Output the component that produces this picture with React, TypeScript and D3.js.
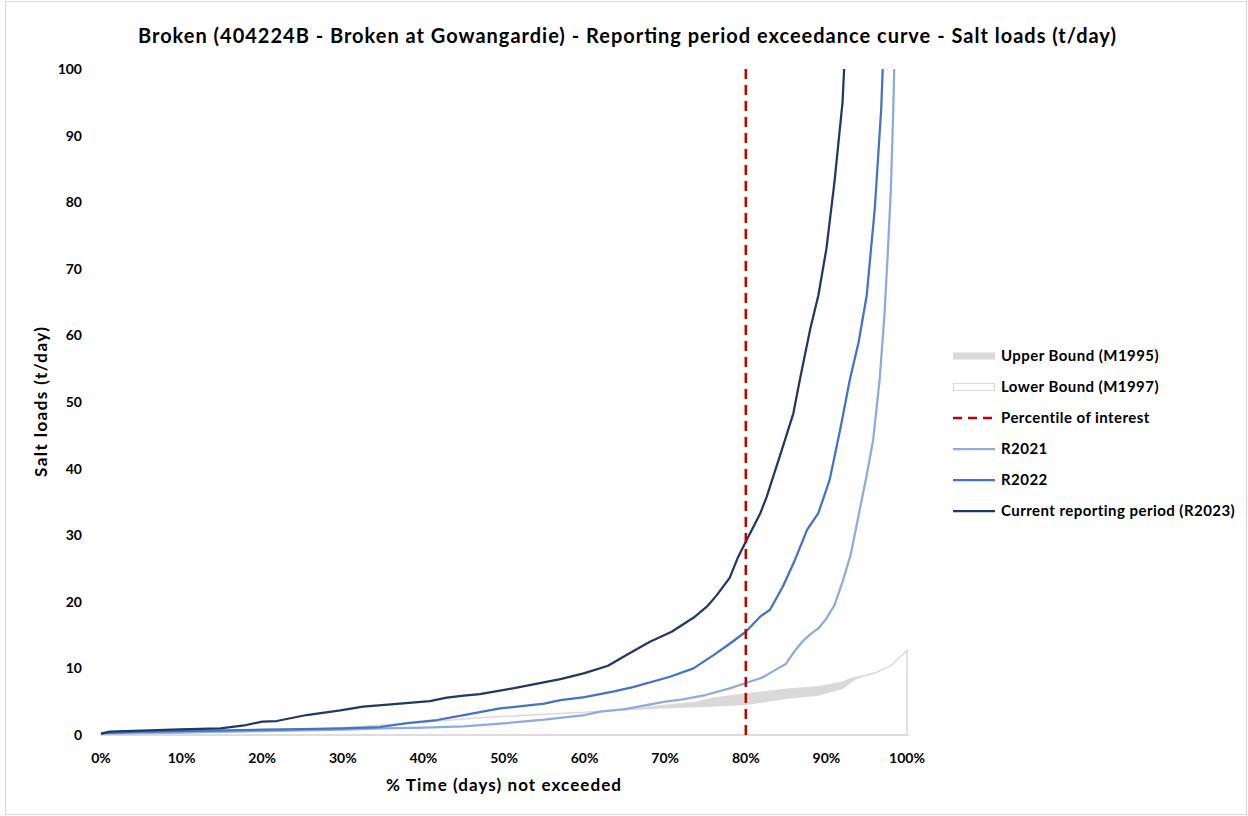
import React from "react";
import * as d3 from "d3";

const TITLE = "Broken (404224B - Broken at Gowangardie) - Reporting period exceedance curve - Salt loads (t/day)";
const X_TITLE = "% Time (days) not exceeded";
const Y_TITLE = "Salt loads (t/day)";
const X_TICKS = [0, 10, 20, 30, 40, 50, 60, 70, 80, 90, 100];
const Y_TICKS = [0, 10, 20, 30, 40, 50, 60, 70, 80, 90, 100];
const PERCENTILE = 80;

// [percent of time, salt load t/day]
const upperBound: [number, number][] = [
  [0, 0.1], [10, 0.2], [20, 0.4], [30, 0.7], [40, 1.1], [50, 1.7], [60, 2.6], [63, 3.3],
  [65, 3.9], [70, 4.5], [74, 5.0], [76, 5.6], [80, 6.2], [85, 6.9], [89, 7.3], [92, 8.0],
  [93, 8.5], [94, 8.8], [96, 9.0], [98, 9.5], [100, 10.0],
];
const lowerBound: [number, number][] = [
  [0, 0.1], [10, 0.3], [20, 0.6], [30, 1.1], [40, 1.9], [45, 2.4], [50, 2.8], [55, 3.1],
  [60, 3.4], [65, 3.8], [70, 4.1], [75, 4.3], [80, 4.6], [85, 5.5], [89, 6.0], [92, 7.0],
  [93.5, 8.4], [95, 9.0], [96, 9.3], [98, 10.4], [100, 12.7],
];
const r2021: [number, number][] = [
  [0, 0.2], [10, 0.4], [20, 0.6], [30, 0.8], [35, 1.0], [40, 1.1], [45, 1.3], [50, 1.75],
  [55, 2.3], [60, 3.0], [62, 3.5], [65, 3.9], [70, 5.0], [72, 5.3], [75, 6.0], [78, 7.0],
  [80, 7.8], [82, 8.6], [84, 10.0], [85, 10.7], [86, 12.5], [87, 14.0], [88, 15.1],
  [89, 16.0], [90, 17.5], [91, 19.5], [92, 23.0], [93, 27.0], [94, 33.0], [95, 39.0],
  [95.8, 44.3], [96.6, 53.3], [97.2, 63], [97.6, 72], [98, 82], [98.3, 94], [98.6, 110],
];
const r2022: [number, number][] = [
  [0, 0.3], [5, 0.5], [10, 0.6], [20, 0.8], [25, 0.9], [30, 1.0], [34.6, 1.2], [38, 1.8],
  [41.7, 2.25], [45, 3.0], [49.5, 4.0], [55, 4.7], [57, 5.25], [60, 5.7], [63.5, 6.5],
  [66, 7.2], [70.6, 8.75], [73.5, 10.0], [76, 12.0], [78, 13.7], [80, 15.5], [81.8, 17.8],
  [83, 18.8], [84.6, 22.3], [86, 26.0], [87.6, 30.8], [89, 33.3], [90.4, 38.3],
  [91.7, 45.8], [92.9, 53.3], [94, 59.0], [95, 66.0], [96, 79.0], [96.8, 94.0], [97.3, 110],
];
const r2023: [number, number][] = [
  [0, 0.2], [1.1, 0.5], [5, 0.65], [9.8, 0.85], [14.8, 1.0], [18, 1.5], [20, 2.0],
  [21.8, 2.1], [25.5, 3.0], [29.7, 3.7], [32.5, 4.25], [36, 4.6], [40.8, 5.1], [42.9, 5.6],
  [45, 5.9], [47, 6.15], [51.1, 7.0], [57, 8.4], [60, 9.3], [62.9, 10.4], [65.2, 12.0],
  [68.1, 14.0], [70.8, 15.5], [73.5, 17.6], [75.2, 19.3], [76.4, 21.0], [78, 23.6],
  [79, 26.6], [80, 29.0], [81.8, 33.3], [82.6, 35.8], [84.6, 43.3], [85.9, 48.3],
  [86.7, 53.3], [88, 61.0], [89, 66.0], [90, 73.0], [91, 83.0], [92, 95.0], [92.6, 110],
];

const C_2021 = "#8FAADC";
const C_2022 = "#4472C4";
const C_2023 = "#203864";
const C_BAND = "#D9D9D9";
const C_RED = "#C00000";

const FONT = "Lato, 'Open Sans', sans-serif";

export default function App() {
  const x = d3.scaleLinear().domain([0, 100]).range([101, 907]);
  const y = d3.scaleLinear().domain([0, 100]).range([735, 69]);

  const line = d3.line<[number, number]>().x((d) => x(d[0])).y((d) => y(d[1]));
  const area = d3
    .area<[number, number]>()
    .x((d) => x(d[0]))
    .y0(y(0))
    .y1((d) => y(d[1]));

  const legendItems = [
    { label: "Upper Bound (M1995)", kind: "fill" },
    { label: "Lower Bound (M1997)", kind: "outline" },
    { label: "Percentile of interest", kind: "dash" },
    { label: "R2021", kind: "line", color: C_2021 },
    { label: "R2022", kind: "line", color: C_2022 },
    { label: "Current reporting period (R2023)", kind: "line", color: C_2023 },
  ];

  return (
    <svg
      width={1248}
      height={816}
      style={{ position: "absolute", left: 0, top: 0, background: "#fff" }}
      fontFamily={FONT}
    >
      <rect x={5.5} y={1.5} width={1241} height={813} fill="#fff" stroke="#D9D9D9" />
      <defs>
        <clipPath id="plot">
          <rect x={x(0)} y={y(100)} width={x(100) - x(0) + 4} height={y(0) - y(100)} />
        </clipPath>
      </defs>

      <text
        x={138}
        y={43}
        fontSize={20}
        fontWeight={700}
        fill="#000"
        textLength={978}
        lengthAdjust="spacing"
      >
        {TITLE}
      </text>

      {/* bounds */}
      <path d={area(upperBound) || ""} fill={C_BAND} stroke={C_BAND} strokeWidth={0.75} />
      <path d={area(lowerBound) || ""} fill="#fff" stroke={C_BAND} strokeWidth={1.5} />

      {/* x axis line */}
      <line x1={x(0) - 1} x2={x(100) + 3} y1={y(0)} y2={y(0)} stroke={C_BAND} strokeWidth={1} />

      <g clipPath="url(#plot)" fill="none" strokeLinejoin="round" strokeLinecap="round">
        <path d={line(r2021) || ""} stroke={C_2021} strokeWidth={2.25} />
        <path d={line(r2022) || ""} stroke={C_2022} strokeWidth={2.25} />
        <path d={line(r2023) || ""} stroke={C_2023} strokeWidth={2.25} />
      </g>

      <line
        x1={x(PERCENTILE)}
        x2={x(PERCENTILE)}
        y1={y(100)}
        y2={y(0)}
        stroke={C_RED}
        strokeWidth={2.5}
        strokeDasharray="10,6"
      />

      {/* y ticks */}
      {Y_TICKS.map((t) => (
        <text key={t} x={82} y={y(t) + 5} textAnchor="end" fontSize={14} fontWeight={700} fill="#000">
          {t}
        </text>
      ))}
      {/* x ticks */}
      {X_TICKS.map((t) => (
        <text key={t} x={x(t)} y={763} textAnchor="middle" fontSize={14} fontWeight={700} fill="#000">
          {t + "%"}
        </text>
      ))}

      <text
        x={386}
        y={791}
        fontSize={17}
        fontWeight={700}
        fill="#000"
        textLength={235}
        lengthAdjust="spacing"
      >
        {X_TITLE}
      </text>
      <text
        transform={`translate(47,477) rotate(-90)`}
        fontSize={17}
        fontWeight={700}
        fill="#000"
        textLength={150}
        lengthAdjust="spacing"
      >
        {Y_TITLE}
      </text>

      {/* legend */}
      {legendItems.map((it, i) => {
        const cy = 356 + i * 31;
        return (
          <g key={it.label}>
            {it.kind === "fill" && <rect x={953} y={cy - 3.5} width={42} height={7} fill={C_BAND} />}
            {it.kind === "outline" && (
              <rect x={953.5} y={cy - 3.5} width={41} height={7} fill="#fff" stroke={C_BAND} />
            )}
            {it.kind === "dash" && (
              <line x1={953} x2={995} y1={cy} y2={cy} stroke={C_RED} strokeWidth={2.5} strokeDasharray="9,6" />
            )}
            {it.kind === "line" && (
              <line x1={953} x2={995} y1={cy} y2={cy} stroke={it.color} strokeWidth={2.25} />
            )}
            <text x={1001} y={cy + 5} fontSize={15} fontWeight={700} fill="#000" letterSpacing={0.45}>
              {it.label}
            </text>
          </g>
        );
      })}
    </svg>
  );
}
